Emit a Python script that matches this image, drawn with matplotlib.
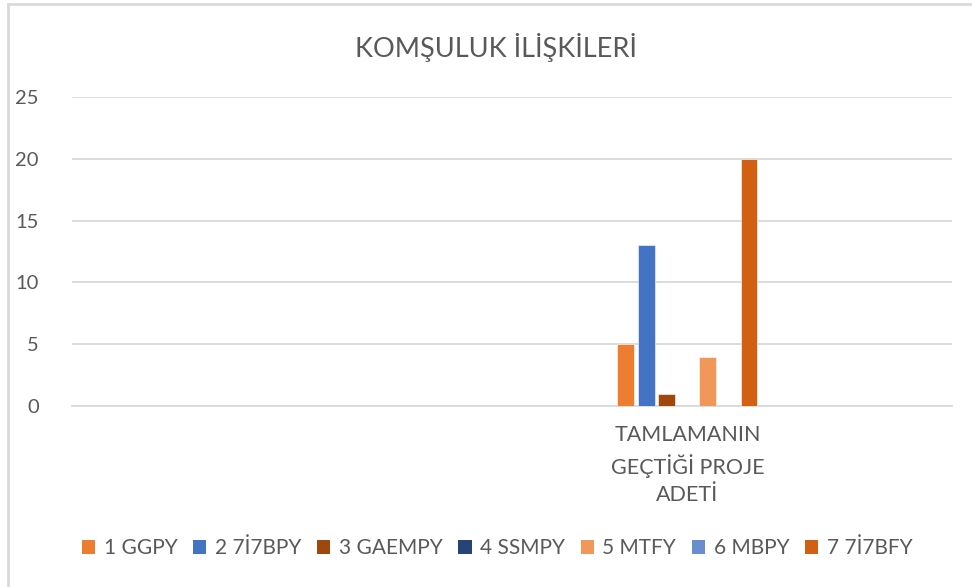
import numpy as np
import matplotlib.pyplot as plt
from matplotlib.lines import Line2D
from matplotlib.patches import Patch

# Veriler
category = "TAMLAMANIN\nGEÇTİĞİ PROJE\nADETİ"
series = ["1 GGPY", "2 7İ7BPY", "3 GAEMPY", "4 SSMPY", "5 MTFY", "6 MBPY", "7 7İ7BFY"]
values = [5, 13, 1, 0, 4, 0, 20]
colors = ["#ED7D31", "#4472C4", "#9E480E", "#264478", "#F1975A", "#698ED0", "#D26012"]
yticks = [0, 5, 10, 15, 20, 25]

plt.rcParams['font.family'] = ['Lato', 'DejaVu Sans']
txt = "#595959"

fig = plt.figure(figsize=(9.72, 5.87), dpi=100)
ax = fig.add_axes([72 / 972, 1 - 406 / 587, 880 / 972, 309 / 587])

n = len(series)
pos = np.arange(n) - (n - 1) / 2
for p, v, c in zip(pos, values, colors):
    if v > 0:
        ax.bar(p, v, width=0.82, color=c, edgecolor="white", linewidth=0.4, zorder=3)

# x=0 kategorinin merkezi, çizim alanının ~%70'inde
ax.set_xlim(-30.0, 12.9)
ax.set_ylim(0, 25)
ax.set_yticks(yticks)
ax.yaxis.grid(True, color="#D9D9D9", linewidth=1.3, zorder=0)
ax.set_xticks([0])
ax.set_xticklabels([category], linespacing=1.45, fontsize=15.5)
ax.tick_params(axis="both", length=0, colors=txt)
ax.tick_params(axis="y", pad=24, labelsize=14.5)
ax.tick_params(axis="x", pad=14)
for s in ax.spines.values():
    s.set_visible(False)
ax.spines["bottom"].set_visible(True)
ax.spines["bottom"].set_color("#D9D9D9")
ax.spines["bottom"].set_linewidth(1.3)

fig.text(496 / 972, 1 - 47 / 587, "KOMŞULUK İLİŞKİLERİ", ha="center", va="center",
         fontsize=19.5, color=txt)

handles = [Patch(facecolor=c, edgecolor="none") for c in colors]
fig.legend(handles, series, loc="center", bbox_to_anchor=(497 / 972, 1 - 548 / 587),
           ncol=n, frameon=False, fontsize=15, labelcolor=txt,
           handlelength=0.65, handleheight=0.65, handletextpad=0.4, columnspacing=0.75)

# grafik alanı çerçevesi (üst ve sol kenar)
fig.add_artist(Line2D([8 / 972, 8 / 972], [0, 1 - 4 / 587], transform=fig.transFigure,
                      color="#D9D9D9", linewidth=2))
fig.add_artist(Line2D([8 / 972, 1], [1 - 4 / 587, 1 - 4 / 587], transform=fig.transFigure,
                      color="#D9D9D9", linewidth=2))

fig.savefig("out.png", dpi=100)
